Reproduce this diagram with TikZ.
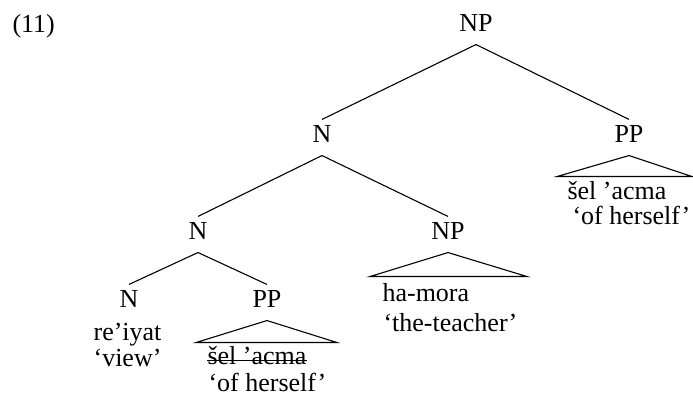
\documentclass[tikz,border=0pt]{standalone}
\usepackage{fontspec}
\setmainfont{Liberation Serif}
\usepackage{tikz}

\begin{document}
\begin{tikzpicture}[x=0.5pt,y=-0.5pt,line width=0.55pt,
    cat/.style={anchor=base,inner sep=0pt,text height=11.5pt,text depth=6pt,
        font=\fontsize{13}{15}\selectfont},
    word/.style={anchor=base west,inner sep=0pt,font=\fontsize{13}{15}\selectfont}]
    \useasboundingbox (0,0) rectangle (693,400);

    \node [word] (ex) at (12,33) {(11)};

    \node [cat] (np0) at (476,32)  {NP};
    \node [cat] (n1)  at (322,143) {N};
    \node [cat] (pp1) at (629,143) {PP};
    \node [cat] (n2)  at (198,240) {N};
    \node [cat] (np2) at (448,240) {NP};
    \node [cat] (n3)  at (129,308) {N};
    \node [cat] (pp3) at (267,308) {PP};

    \draw (np0.south) -- (n1.north);
    \draw (np0.south) -- (pp1.north);
    \draw (n1.south) -- (n2.north);
    \draw (n1.south) -- (np2.north);
    \draw (n2.south) -- (n3.north);
    \draw (n2.south) -- (pp3.north);

    % roofs
    \draw (pp1.south) -- ++(-72,21) -- ++(135,0) -- cycle;
    \draw (np2.south) -- ++(-78,24) -- ++(157,0) -- cycle;
    \draw (pp3.south) -- ++(-71,22) -- ++(141,0) -- cycle;

    \node [word] (sel1) at (567,200) {šel 'acma};
    \node [word] (gl1)  at (572,225) {`of herself'};

    \node [word] (hamora)  at (382,302) {ha-mora};
    \node [word] (teacher) at (383,332) {`the-teacher'};

    \node [word,anchor=base east] (reiyat) at (162,341) {re'iyat};
    \node [word,anchor=base east] (view)   at (162,367) {`view'};

    \node [word] (sel3) at (207,365) {šel 'acma};
    \node [word] (gl3)  at (208,392) {`of herself'};
    \draw ([yshift=2.3pt]sel3.base west) -- ([yshift=2.3pt]sel3.base east);
\end{tikzpicture}
\end{document}
